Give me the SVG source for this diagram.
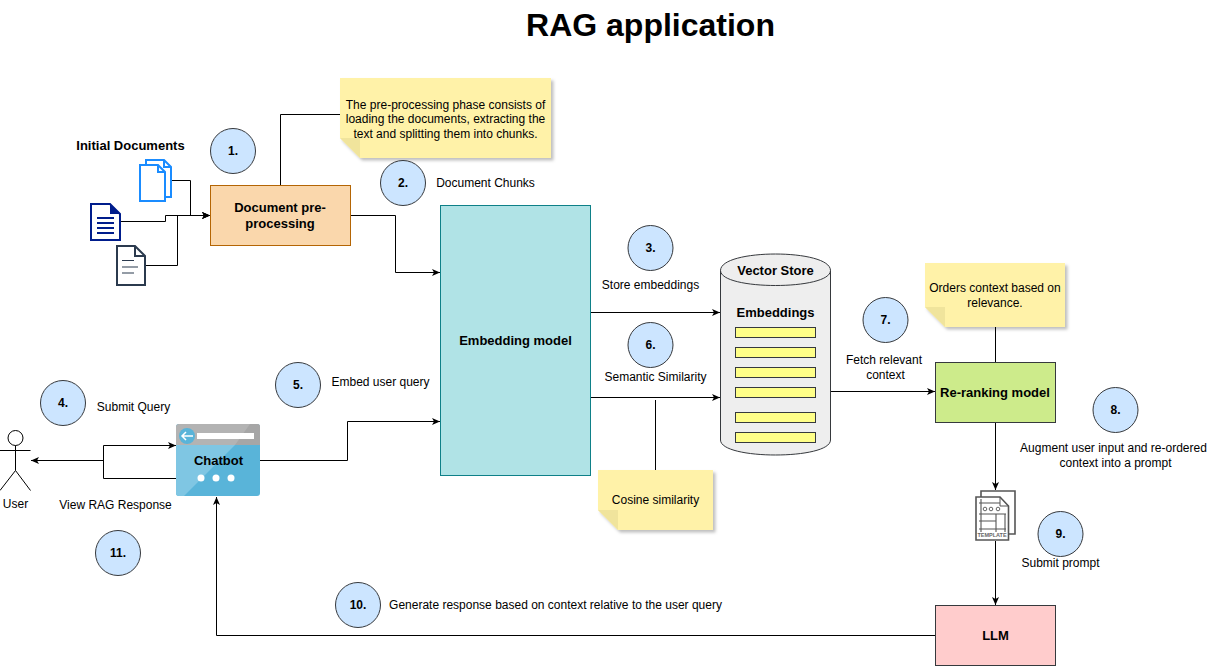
<svg xmlns="http://www.w3.org/2000/svg" width="1221" height="666" viewBox="0 0 1221 666">
<style>
text{font-family:"Liberation Sans",Arial,sans-serif;fill:#000}
.l{font-size:12px;text-anchor:middle}
.b{font-size:13px;font-weight:bold;text-anchor:middle}
.n{font-size:13px;font-weight:bold;text-anchor:middle}
.t{font-size:12px;font-weight:bold;text-anchor:middle}
.c{fill:#cce5ff;stroke:#36393d;stroke-width:1}
.e{fill:none;stroke:#000;stroke-width:1}
.bar{fill:#ffff88;stroke:#36393d;stroke-width:1}
.note{fill:#fff2a8}
.fold{fill:#f0e49c}
</style>
<defs>
<marker id="a" markerWidth="9" markerHeight="8" refX="8" refY="4" orient="auto" markerUnits="userSpaceOnUse"><path d="M0 0.5L8 4L0 7.5L2 4Z" fill="#000"/></marker>
<filter id="s" x="-10%" y="-10%" width="125%" height="125%"><feDropShadow dx="2.5" dy="2.5" stdDeviation="1.5" flood-color="#000" flood-opacity="0.25"/></filter>
</defs>

<text x="650.500" y="36" font-size="32" font-weight="bold" text-anchor="middle">RAG application</text>

<g id="connectors">
<path class="e" d="M280.500 185V114.500H340"/>
<path class="e" marker-end="url(#a)" d="M171 180.500H190.500V215.500H210"/>
<path class="e" marker-end="url(#a)" d="M120 221.500H165.500V215.500H210"/>
<path class="e" marker-end="url(#a)" d="M145 265.500H177.500V215.500H210"/>
<path class="e" marker-end="url(#a)" d="M351 215.500H395.500V272.500H440"/>
<path class="e" marker-end="url(#a)" d="M590 307V312.500H720"/>
<path class="e" marker-end="url(#a)" d="M590 397.500H720"/>
<path class="e" d="M655.500 400V470"/>
<path class="e" marker-end="url(#a)" d="M830 391.500H935"/>
<path class="e" d="M995.500 327V362"/>
<path class="e" marker-end="url(#a)" d="M995.500 422V490"/>
<path class="e" marker-end="url(#a)" d="M995.500 541V605"/>
<path class="e" marker-end="url(#a)" d="M935 635.500H216.500V497"/>
<path class="e" marker-end="url(#a)" d="M253 460.500H347.500V421.500H440"/>
<path class="e" marker-end="url(#a)" d="M176 478.500H103.500V445.500H176"/>
<path class="e" marker-end="url(#a)" d="M103.500 460.500H31"/>
</g>

<g id="title-initial"><text class="n" x="130.500" y="150">Initial Documents</text></g>

<g id="doc-copies" fill="#fff" stroke="#1a8cff" stroke-width="2">
<path d="M146 160H164L171 167V197H146Z"/>
<path d="M140 165H158L165 172V201H140Z"/>
<path d="M158 165V172H165" fill="none"/>
<path d="M164 160V167H171" fill="none"/>
</g>
<g id="doc-blue">
<path d="M91 204H110L120 214V240H91Z" fill="#fff" stroke="#001d8c" stroke-width="2"/>
<path d="M110 204L120 214H110Z" fill="#001d8c"/>
<path d="M97 218H114M97 223H114M97 228H114M97 233H114" stroke="#001d8c" stroke-width="1.800"/>
</g>
<g id="doc-dark" fill="none" stroke="#2b3a4e" stroke-width="2">
<path d="M117 246H135L145 256V285H117Z" fill="#fff"/>
<path d="M135 246V256H145"/>
<path d="M122 260.500H134M122 267H138M122 273H134" stroke-width="1.200"/>
</g>

<g id="pre-processing">
<rect x="210.500" y="185.500" width="140" height="60" fill="#fad7ac" stroke="#b46504"/>
<text class="b" x="280" y="212">Document pre-</text><text class="b" x="280" y="228">processing</text>
</g>

<g id="note-pre" filter="url(#s)">
<path class="note" d="M340 78H551V158H360L340 138Z"/><path class="fold" d="M340 138H360V158Z"/>
</g>
<g id="note-pre-text">
<text class="l" x="445.500" y="109">The pre-processing phase consists of</text>
<text class="l" x="445.500" y="123">loading the documents, extracting the</text>
<text class="l" x="445.500" y="138">text and splitting them into chunks.</text>
</g>

<g id="embedding">
<rect x="440.500" y="205.500" width="150" height="270" fill="#b0e3e6" stroke="#0e8088"/>
<text class="b" x="515.500" y="345">Embedding model</text>
</g>

<g id="vector-store">
<path d="M720.500 270.500C720.500 248.500 830.500 248.500 830.500 270.500V440C830.500 460 720.500 460 720.500 440Z" fill="#eeeeee" stroke="#36393d"/>
<path d="M720.500 270.500C720.500 290.500 830.500 290.500 830.500 270.500" fill="none" stroke="#36393d"/>
<text class="n" x="775.500" y="275">Vector Store</text>
<text class="n" x="775.500" y="317">Embeddings</text>
<rect class="bar" x="735.500" y="327.500" width="80" height="10"/>
<rect class="bar" x="735.500" y="347.500" width="80" height="10"/>
<rect class="bar" x="735.500" y="367.500" width="80" height="10"/>
<rect class="bar" x="735.500" y="387.500" width="80" height="10"/>
<rect class="bar" x="735.500" y="412.500" width="80" height="10"/>
<rect class="bar" x="735.500" y="432.500" width="80" height="10"/>
</g>

<g id="note-rerank" filter="url(#s)">
<path class="note" d="M925 263H1065V327H945L925 307Z"/><path class="fold" d="M925 307H945V327Z"/>
</g>
<g id="note-rerank-text">
<text class="l" x="995" y="292">Orders context based on</text>
<text class="l" x="995" y="307">relevance.</text>
</g>

<g id="note-cosine" filter="url(#s)">
<path class="note" d="M598 470H713V530H618L598 510Z"/><path class="fold" d="M598 510H618V530Z"/>
</g>
<text class="l" x="655.500" y="504">Cosine similarity</text>

<g id="rerank">
<rect x="935.500" y="362.500" width="120" height="60" fill="#cdeb8b" stroke="#36393d"/>
<text class="b" x="995" y="397">Re-ranking model</text>
</g>
<g id="llm">
<rect x="935.500" y="605.500" width="120" height="60" fill="#ffcccc" stroke="#36393d"/>
<text class="n" x="995.500" y="640">LLM</text>
</g>

<g id="template" stroke="#555" fill="#fff">
<path d="M981 497V491H1015V534H1008.500" stroke-width="1.600"/>
<path d="M976 497H1000L1008.500 506V540H976Z" stroke-width="1.600"/>
<path d="M1000 497V506H1008.500" fill="none" stroke-width="1"/>
<path d="M979 503H1000M979 514H1006M979 521H996M979 529H1006M981 499V532M996 514V532M1005 514V532" fill="none" stroke-width="1.100"/>
<circle cx="985" cy="509" r="1.800" fill="none" stroke-width="0.900"/><circle cx="991" cy="509" r="1.800" fill="none" stroke-width="0.900"/><circle cx="998" cy="509" r="1.800" fill="none" stroke-width="0.900"/>
<text x="992" y="536.500" font-size="5.500" font-weight="bold" text-anchor="middle" stroke="none" style="fill:#666">TEMPLATE</text>
</g>

<g id="chatbot">
<rect x="176" y="424" width="84" height="72" rx="3" fill="#59b4d9"/>
<path d="M176 445H235L184 496H179Q176 496 176 493Z" fill="#7fc6e3"/>
<path d="M176 445V427Q176 424 179 424H257Q260 424 260 427V445Z" fill="#b3b3b3"/>
<path d="M235 445L250 424H257Q260 424 260 427V445Z" fill="#a6a6a6"/>
<rect x="197" y="433" width="57" height="6" fill="#fff"/>
<circle cx="187" cy="436" r="8" fill="#59b4d9"/>
<path d="M193 436H182M186 432L182 436L186 440" fill="none" stroke="#fff" stroke-width="1.500"/>
<circle cx="201" cy="478" r="3.500" fill="#fff"/><circle cx="216" cy="478" r="3.500" fill="#fff"/><circle cx="231" cy="478" r="3.500" fill="#fff"/>
<text class="n" x="218.500" y="465">Chatbot</text>
</g>

<g id="user" fill="none" stroke="#000">
<circle cx="15.500" cy="438" r="7.500" fill="#fff"/>
<path d="M15.500 445.500V470.500M0 450.500H30.500M15.500 470.500L0 490.500M15.500 470.500L30.500 490.500"/>
<text class="l" x="15.500" y="508" stroke="none">User</text>
</g>

<g id="badges">
<circle class="c" cx="233" cy="151" r="22.500"/><text class="t" x="233" y="155">1.</text>
<circle class="c" cx="403" cy="183" r="22.500"/><text class="t" x="403" y="187">2.</text>
<circle class="c" cx="650.500" cy="248" r="22.500"/><text class="t" x="650.500" y="252">3.</text>
<circle class="c" cx="63" cy="403" r="22.500"/><text class="t" x="63" y="407">4.</text>
<circle class="c" cx="298" cy="385" r="22.500"/><text class="t" x="298" y="389">5.</text>
<circle class="c" cx="650.500" cy="345" r="22.500"/><text class="t" x="650.500" y="349">6.</text>
<circle class="c" cx="885.500" cy="320" r="22.500"/><text class="t" x="885.500" y="324">7.</text>
<circle class="c" cx="1115.500" cy="410" r="22.500"/><text class="t" x="1115.500" y="414">8.</text>
<circle class="c" cx="1060.500" cy="534" r="22.500"/><text class="t" x="1060.500" y="538">9.</text>
<circle class="c" cx="358" cy="605" r="22.500"/><text class="t" x="358" y="609">10.</text>
<circle class="c" cx="118" cy="553" r="22.500"/><text class="t" x="118" y="557">11.</text>
</g>

<g id="labels">
<text class="l" x="485.500" y="187">Document Chunks</text>
<text class="l" x="650.500" y="289">Store embeddings</text>
<text class="l" x="133.500" y="411">Submit Query</text>
<text class="l" x="380.500" y="386">Embed user query</text>
<text class="l" x="655.500" y="381">Semantic Similarity</text>
<text class="l" x="884" y="364">Fetch relevant</text>
<text class="l" x="885.500" y="379">context</text>
<text class="l" x="1113.500" y="452">Augment user input and re-ordered</text>
<text class="l" x="1115.500" y="467">context into a prompt</text>
<text class="l" x="1060.500" y="567">Submit prompt</text>
<text class="l" x="555.500" y="609">Generate response based on context relative to the user query</text>
<text class="l" x="115.500" y="509">View RAG Response</text>
</g>
</svg>
